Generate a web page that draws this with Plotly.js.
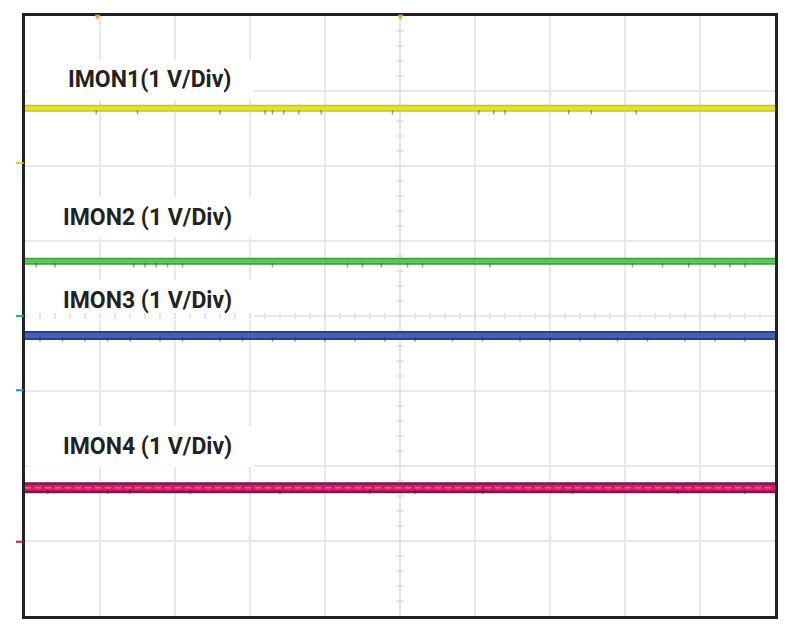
<!DOCTYPE html>
<html>
<head>
<meta charset="utf-8">
<script src="https://cdn.plot.ly/plotly-3.0.1.min.js"></script>
<style>html,body{margin:0;padding:0;background:#fff;}#chart{width:792px;height:634px;}</style>
</head>
<body>
<div id="chart"></div>
<script>
// Oscilloscope capture: 10 horizontal divisions, 8 vertical divisions, 1 V/Div
const channels = ["IMON1 (1 V/Div)", "IMON2 (1 V/Div)", "IMON3 (1 V/Div)", "IMON4 (1 V/Div)"];
const labelText = ["IMON1(1 V/Div)", "IMON2 (1 V/Div)", "IMON3 (1 V/Div)", "IMON4 (1 V/Div)"];
// ground marker (offset) of each channel, in divisions from the bottom
const offsetsDiv = [6.04, 4.0, 3.01, 0.99];
// measured DC level of each channel above its ground marker, in volts
const levelsV = [0.73, 0.73, 0.73, 0.72];
// time axis (divisions)
const timeDiv = [0, 10];
// small glitch marks along each trace (time in divisions)
const glitch1 = [0.95, 1.5, 2.6, 3.2, 3.3, 3.45, 3.65, 3.95, 4.9, 6.05, 6.25, 6.4, 7.25, 7.55, 8.15];
const glitch2 = [0.15, 0.4, 1.45, 1.6, 1.75, 1.9, 2.1, 3.3, 4.3, 4.5, 4.75, 5.1, 5.3, 6.2, 8.1, 8.5, 8.85, 9.2, 9.4, 9.6];
const glitch3 = [0.2, 0.5, 0.8, 1.1, 1.4, 1.8, 2.1, 2.6, 2.9, 3.3, 3.6, 4.0, 4.4, 4.8, 5.2, 5.7, 6.1, 6.6, 7.0, 7.4, 7.9, 8.3, 8.8, 9.2, 9.6];
const glitch4 = [0.3, 1.1, 1.4, 2.2, 3.4, 4.6, 5.2, 6.1, 7.3, 8.7, 9.6];
const glitches = [glitch1, glitch2, glitch3, glitch4];

const colors = [
  {edge: "#c4c428", core: "#e6e61e", mark: "#f2c23c"},
  {edge: "#3c9e3c", core: "#58c658", mark: "#1fb27e"},
  {edge: "#2a3f90", core: "#3f62b8", mark: "#2a86d4"},
  {edge: "#6a2150", core: "#e21470", mark: "#c01e4a"}
];
const widths = [[7, 4], [7, 4], [9, 5], [11, 6]];

const traces = [];
channels.forEach((name, i) => {
  const lvl = offsetsDiv[i] + levelsV[i];
  const ys = timeDiv.map(() => lvl);
  traces.push({x: timeDiv, y: ys, type: "scatter", mode: "lines", name: name,
    line: {color: colors[i].edge, width: widths[i][0]}, hoverinfo: "skip", showlegend: false});
  traces.push({x: timeDiv, y: ys, type: "scatter", mode: "lines", name: name,
    line: {color: colors[i].core, width: widths[i][1]}, hoverinfo: "skip", showlegend: false});
  const g = glitches[i];
  traces.push({x: g, y: g.map(() => lvl - 0.055), type: "scatter", mode: "markers",
    marker: {symbol: "line-ns", size: 3, line: {color: "rgba(40,40,40,0.45)", width: 1.5}},
    hoverinfo: "skip", showlegend: false});
});
// orange dashed centre line on IMON4
const l4 = offsetsDiv[3] + levelsV[3];
traces.push({x: timeDiv, y: timeDiv.map(() => l4), type: "scatter", mode: "lines",
  line: {color: "#ff7a3c", width: 1.5, dash: "6px,4px"}, hoverinfo: "skip", showlegend: false});

// shapes: white label boxes, centre-axis minor ticks, channel ground markers
const shapes = [];
const labelY = [7.15, 5.32, 4.21, 2.26];
const labelX = [0.55, 0.48, 0.48, 0.48];
labelY.forEach((y) => {
  shapes.push({type: "rect", xref: "x", yref: "y", x0: 0.04, x1: 3.05, y0: y - 0.27, y1: y + 0.27,
    fillcolor: "#ffffff", line: {width: 0}, layer: "between"});
});
for (let k = 1; k < 50; k++) {
  const t = k * 0.2;
  shapes.push({type: "line", xref: "x", yref: "y", x0: t, x1: t, y0: 3.96, y1: 4.04,
    line: {color: "#dedede", width: 1.5}, layer: "between"});
}
for (let k = 1; k < 40; k++) {
  const v = k * 0.2;
  shapes.push({type: "line", xref: "x", yref: "y", x0: 4.95, x1: 5.05, y0: v, y1: v,
    line: {color: "#dedede", width: 1.5}, layer: "between"});
}
offsetsDiv.forEach((o, i) => {
  shapes.push({type: "line", xref: "paper", yref: "y", x0: -0.012, x1: -0.002, y0: o, y1: o,
    line: {color: colors[i].mark, width: 2}});
});

const annotations = labelText.map((t, i) => ({
  text: "<b>" + t + "</b>", xref: "x", yref: "y", x: labelX[i], y: labelY[i],
  xanchor: "left", yanchor: "middle", showarrow: false,
  font: {family: "Roboto, 'Open Sans', sans-serif", size: 23, color: "#222222"}
}));
[0.97, 5.0].forEach((t) => {
  annotations.push({text: "▼", xref: "x", yref: "paper", x: t, y: 1.0, yanchor: "middle",
    showarrow: false, font: {size: 9, color: "#f5a032"}});
});

const layout = {
  width: 792, height: 634,
  margin: {l: 25, r: 17, t: 16, b: 18},
  paper_bgcolor: "#ffffff", plot_bgcolor: "#ffffff",
  xaxis: {range: [0, 10], dtick: 1, tick0: 0, showticklabels: false, ticks: "",
    showgrid: true, gridcolor: "#e8e8e8", gridwidth: 2, zeroline: false,
    showline: true, mirror: true, linecolor: "#222222", linewidth: 3, fixedrange: true},
  yaxis: {range: [0, 8], dtick: 1, tick0: 0, showticklabels: false, ticks: "",
    showgrid: true, gridcolor: "#e8e8e8", gridwidth: 2, zeroline: false,
    showline: true, mirror: true, linecolor: "#222222", linewidth: 3, fixedrange: true},
  shapes: shapes,
  annotations: annotations,
  showlegend: false
};
Plotly.newPlot("chart", traces, layout, {displayModeBar: false, staticPlot: true});
</script>
</body>
</html>
